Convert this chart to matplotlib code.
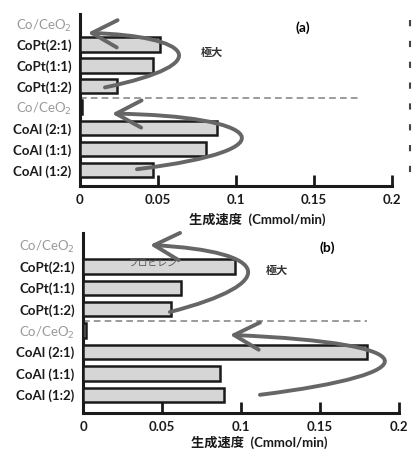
import matplotlib
matplotlib.use("Agg")
import matplotlib.pyplot as plt
from matplotlib.path import Path
from matplotlib.patches import FancyArrowPatch
from matplotlib.lines import Line2D

plt.rcParams['font.family'] = ['Lato', 'Noto Sans CJK JP', 'DejaVu Sans']

categories = ['Co/CeO$_2$', 'CoPt(2:1)', 'CoPt(1:1)', 'CoPt(1:2)',
              'Co/CeO$_2$', 'CoAl (2:1)', 'CoAl (1:1)', 'CoAl (1:2)']
values_a = [0.0, 0.051, 0.047, 0.024, 0.001, 0.088, 0.081, 0.047]
values_b = [0.0, 0.096, 0.062, 0.056, 0.002, 0.180, 0.087, 0.089]
xticks = [0, 0.05, 0.1, 0.15, 0.2]
xticklabels = ['0', '0.05', '0.1', '0.15', '0.2']
xlabel = '生成速度  (Cmmol/min)'

fig = plt.figure(figsize=(4.17, 4.5), dpi=100)
W, H = 417, 450

def make_ax(left, right, top, bottom):
    return fig.add_axes([left / W, 1 - bottom / H, (right - left) / W, (bottom - top) / H])

ax_a = make_ax(80, 392, 14, 186)
ax_b = make_ax(83, 399, 233, 413)

pos = list(range(len(categories)))
arrow_col = '#666666'

def curve_arrow(ax, pts):
    path = Path(pts, [Path.MOVETO, Path.CURVE4, Path.CURVE4, Path.CURVE4])
    arr = FancyArrowPatch(path=path, arrowstyle='->,head_length=1.3,head_width=0.7',
                          mutation_scale=14, color=arrow_col, lw=2.8,
                          transform=ax.transData, zorder=5, clip_on=False)
    ax.add_patch(arr)

def style(ax, values, ylim, label_xy):
    ax.barh(pos, values, height=0.68, color='#d6d6d6', edgecolor='#1a1a1a',
            linewidth=1.8, zorder=3)
    ax.set_ylim(*ylim)
    ax.set_xlim(0, 0.2)
    ax.set_yticks(pos)
    ax.set_yticklabels(categories)
    for i, t in enumerate(ax.get_yticklabels()):
        if 'CeO' in categories[i]:
            t.set_color('#9a9a9a')
            t.set_fontweight('normal')
        else:
            t.set_color('#1a1a1a')
            t.set_fontweight('bold')
        t.set_fontsize(9.5)
    ax.tick_params(axis='y', length=0, pad=6)
    ax.set_xticks(xticks)
    ax.set_xticklabels(xticklabels, fontweight='bold', fontsize=9.5, color='#1a1a1a')
    ax.tick_params(axis='x', direction='in', length=8, width=2, pad=6, color='#1a1a1a')
    for s in ['top', 'right']:
        ax.spines[s].set_visible(False)
    for s in ['left', 'bottom']:
        ax.spines[s].set_linewidth(2.2)
        ax.spines[s].set_color('#1a1a1a')
    ax.axhline(3.57, xmin=0, xmax=0.9, color='#8a8a8a', lw=1.2, ls=(0, (4, 2.5)), zorder=2)
    ax.set_xlabel(xlabel, fontweight='bold', fontsize=9.5, color='#1a1a1a')
    ax.xaxis.set_label_coords(label_xy[0], label_xy[1])

style(ax_a, values_a, (7.75, -0.45), ((257 - 80) / 312, -0.155))
style(ax_b, values_b, (7.85, -0.56), ((259 - 83) / 316, -0.128))

# annotations panel (a)
ax_a.text(0.143, 0.19, '(a)', fontsize=10, fontweight='bold', ha='center', va='center')
ax_a.text(0.0846, 1.38, '極大', fontsize=8, fontweight='bold', ha='center', va='center', color='#333333')
curve_arrow(ax_a, [(0.016, 3.05), (0.09, 1.9), (0.07, 0.6), (0.005, 0.45)])
curve_arrow(ax_a, [(0.0365, 6.95), (0.14, 6.0), (0.115, 4.4), (0.0205, 4.3)])

# annotations panel (b)
ax_b.text(0.1544, 0.14, '(b)', fontsize=10, fontweight='bold', ha='center', va='center')
ax_b.text(0.1228, 1.17, '極大', fontsize=8, fontweight='bold', ha='center', va='center', color='#333333')
ax_b.text(0.0443, 0.86, 'プロピレン', fontsize=7, ha='center', va='center', color='#555555', zorder=6)
curve_arrow(ax_b, [(0.055, 3.13), (0.125, 1.8), (0.12, 0.3), (0.0424, 0.0)])
curve_arrow(ax_b, [(0.112, 7.0), (0.22, 6.0), (0.22, 4.6), (0.093, 4.2)])

# dashed vertical edge mark at the right of panel (a)
fig.add_artist(Line2D([410 / W, 410 / W], [1 - 20 / H, 1 - 175 / H], color='#444444',
                      lw=1.5, ls=(0, (3, 7)), transform=fig.transFigure))

fig.savefig('out.png', dpi=100)
